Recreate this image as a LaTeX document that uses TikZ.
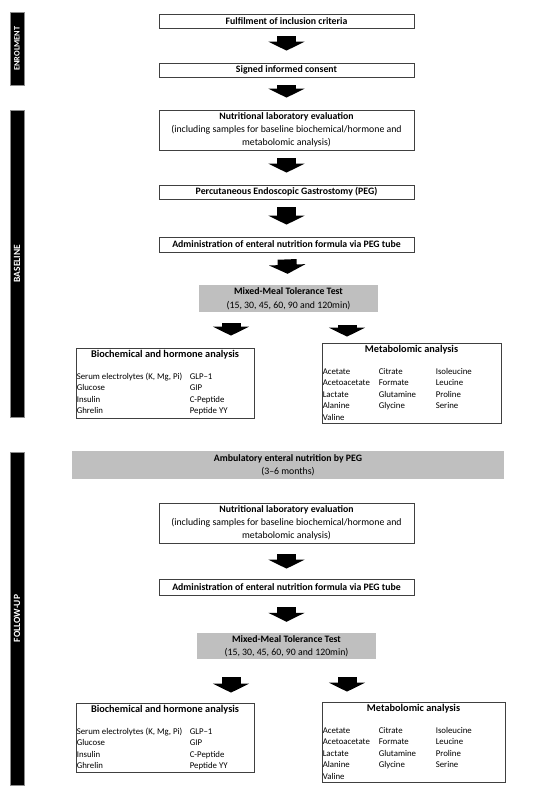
\documentclass[tikz,border=0pt]{standalone}
\usepackage{fontspec}
\setmainfont{Carlito}
\usepackage{tikz}
\usetikzlibrary{arrows.meta}

\tikzset{
	stepbox/.style={shape=rectangle,draw=black!75,line width=0.8pt,minimum width=255pt,minimum height=14pt,inner sep=1pt,align=center,font=\fontsize{9.8}{13}\selectfont},
	greybox/.style={shape=rectangle,fill=black!25,minimum height=27pt,inner sep=1pt,align=center,font=\fontsize{9.8}{13.5}\selectfont},
	listbox/.style={shape=rectangle,draw=black!75,line width=0.8pt,minimum width=178pt,inner sep=0pt},
	listhead/.style={anchor=north,inner sep=1pt,font=\fontsize{10.3}{12}\selectfont\bfseries},
	listbody/.style={anchor=north west,inner sep=0pt,font=\fontsize{8.8}{11.5}\selectfont},
	phase/.style={shape=rectangle,fill=black,draw=black!45,line width=0.6pt,minimum height=14pt,inner sep=0pt,rotate=90,text=white,font=\fontsize{9.5}{9.5}\selectfont\bfseries},
	fatarrow/.style={line width=19pt,-{Triangle[length=9pt,width=36pt]},shorten <=8pt,shorten >=12pt}
}

\begin{document}
\begin{tikzpicture}[x=1pt,y=-1pt]
	\useasboundingbox (0,0) rectangle (550,793);

	\node[phase,minimum width=73pt,font=\fontsize{8.3}{8.3}\selectfont\bfseries] (enrol) at (17, 48.5) {ENROLMENT};
	\node[phase,minimum width=307pt] (base)   at (17, 263.5) {BASELINE};
	\node[phase,minimum width=333pt] (follow) at (17, 618.5) {FOLLOW-UP};

	\node[stepbox] (incl)  at (286.5, 21)    {\textbf{Fulfilment of inclusion criteria}};
	\node[stepbox] (cons)  at (286.5, 70)    {\textbf{Signed informed consent}};
	\node[stepbox,minimum height=40pt] (evalA) at (286.5, 130) {\textbf{Nutritional laboratory evaluation}\\(including samples for baseline biochemical/hormone and\\metabolomic analysis)};
	\node[stepbox] (peg)   at (286.5, 192)   {\textbf{Percutaneous Endoscopic Gastrostomy (PEG)}};
	\node[stepbox,minimum height=15pt] (admA) at (286.5, 244.5) {\textbf{Administration of enteral nutrition formula via PEG tube}};
	\node[greybox,minimum width=179pt] (mmttA) at (288.5, 298.5) {\textbf{Mixed-Meal Tolerance Test}\\(15, 30, 45, 60, 90 and 120min)};

	\node[listbox,minimum height=70pt] (bioA) at (165, 383) {};
	\node[listhead] at ([yshift=-1pt]bioA.north) {Biochemical and hormone analysis};
	\node[listbody] at ([shift={(1,23.5)}]bioA.north west) {\begin{tabular}{@{}p{113pt}@{}l@{}}
		Serum electrolytes (K, Mg, Pi) & GLP--1\\
		Glucose & GIP\\
		Insulin & C-Peptide\\
		Ghrelin & Peptide YY
	\end{tabular}};

	\node[listbox,minimum width=179pt,minimum height=80pt] (metA) at (411.5, 383) {};
	\node[listhead] at ([yshift=-1pt]metA.north) {Metabolomic analysis};
	\node[listbody] at ([shift={(1,23.5)}]metA.north west) {\begin{tabular}{@{}p{56pt}@{}p{57pt}@{}l@{}}
		Acetate & Citrate & Isoleucine\\
		Acetoacetate & Formate & Leucine\\
		Lactate & Glutamine & Proline\\
		Alanine & Glycine & Serine\\
		Valine & &
	\end{tabular}};

	\node[greybox,minimum width=432pt,minimum height=28pt] (amb) at (288, 465) {\textbf{Ambulatory enteral nutrition by PEG}\\(3--6 months)};

	\node[stepbox,minimum height=40pt] (evalB) at (286.5, 523) {\textbf{Nutritional laboratory evaluation}\\(including samples for baseline biochemical/hormone and\\metabolomic analysis)};
	\node[stepbox,minimum height=16pt] (admB) at (286.5, 587) {\textbf{Administration of enteral nutrition formula via PEG tube}};
	\node[greybox,minimum width=179pt,minimum height=26pt] (mmttB) at (286.5, 646) {\textbf{Mixed-Meal Tolerance Test}\\(15, 30, 45, 60, 90 and 120min)};

	\node[listbox,minimum height=69pt] (bioB) at (165, 737.5) {};
	\node[listhead] at ([yshift=-1pt]bioB.north) {Biochemical and hormone analysis};
	\node[listbody] at ([shift={(1,23.5)}]bioB.north west) {\begin{tabular}{@{}p{113pt}@{}l@{}}
		Serum electrolytes (K, Mg, Pi) & GLP--1\\
		Glucose & GIP\\
		Insulin & C-Peptide\\
		Ghrelin & Peptide YY
	\end{tabular}};

	\node[listbox,minimum width=183pt,minimum height=80pt] (metB) at (413.5, 742) {};
	\node[listhead] at ([yshift=-1pt]metB.north) {Metabolomic analysis};
	\node[listbody] at ([shift={(1,23.5)}]metB.north west) {\begin{tabular}{@{}p{56pt}@{}p{57pt}@{}l@{}}
		Acetate & Citrate & Isoleucine\\
		Acetoacetate & Formate & Leucine\\
		Lactate & Glutamine & Proline\\
		Alanine & Glycine & Serine\\
		Valine & &
	\end{tabular}};

	\coordinate (left)  at (231, 0);
	\coordinate (right) at (347, 0);

	\draw[fatarrow] (incl) -- (cons);
	\draw[fatarrow] (cons) -- (evalA);
	\draw[fatarrow] (evalA) -- (peg);
	\draw[fatarrow] (peg) -- (admA);
	\draw[fatarrow,shorten <=7pt,shorten >=11pt] (admA) -- (mmttA);
	\draw[fatarrow,shorten <=11pt] (mmttA.south -| left) -- (bioA.north -| left);
	\draw[fatarrow,shorten <=13pt,shorten >=6pt] (mmttA.south -| right) -- (metA.north -| right);
	\draw[fatarrow,shorten <=11pt,shorten >=10pt] (evalB) -- (admB);
	\draw[fatarrow,shorten <=12pt,shorten >=11pt] (admB) -- (mmttB);
	\draw[fatarrow,shorten <=18pt,shorten >=10pt] (mmttB.south -| left) -- (bioB.north -| left);
	\draw[fatarrow,shorten <=18pt,shorten >=10pt] (mmttB.south -| right) -- (metB.north -| right);

\end{tikzpicture}
\end{document}
